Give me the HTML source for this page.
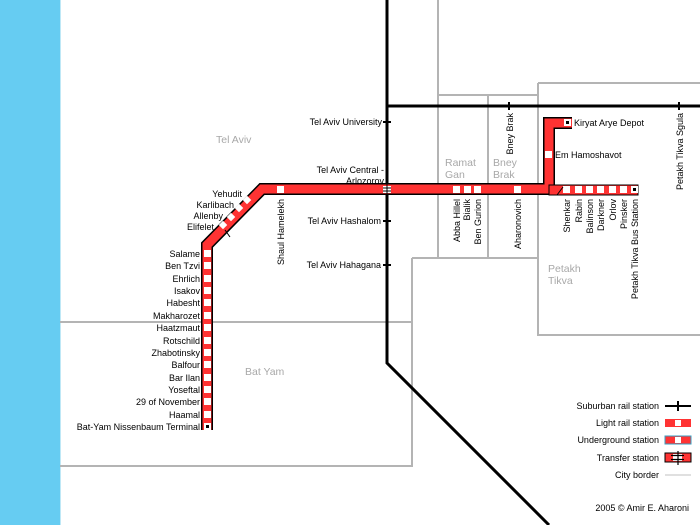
<!DOCTYPE html>
<html><head><meta charset="utf-8"><style>
html,body{margin:0;padding:0;background:#fff;}
svg{display:block;font-family:"Liberation Sans",sans-serif;font-size:9px;}
.g{stroke:#b4b4b4;stroke-width:2;fill:none}
.a{fill:#a8a8a8;font-size:10.5px}
</style></head><body>
<svg width="700" height="525" viewBox="0 0 700 525" xmlns="http://www.w3.org/2000/svg">
<rect x="0" y="0" width="60" height="525" fill="#66ccf2"/>
<line x1="60.5" y1="0" x2="60.5" y2="525" stroke="#bfe8f6" stroke-width="1"/>
<path class="g" d="M438 0V258M438 95H538M488 95V258M538 83H700M538 83V335H700M412 258H538M412 258V466H60M60 322H412"/>
<path d="M387 0V363L549 525M387 106H700" stroke="#000" stroke-width="3" fill="none"/>
<path d="M383 122H391M383 221H391M383 265H391M509 102V110M679 102V110" stroke="#000" stroke-width="2"/>
<path d="M207 430V245L262 189H549V123H572" stroke="#000" stroke-width="12" fill="none" stroke-linejoin="miter"/>
<path d="M207 430V245L262 189H549V123H572" stroke="#f33" stroke-width="9" fill="none" stroke-linejoin="miter"/>
<rect x="549" y="185" width="89" height="10" fill="#f33" stroke="#000" stroke-width="1"/>
<g fill="#fff">
<rect x="204" y="250" width="7" height="7"/><rect x="204" y="262" width="7" height="7"/><rect x="204" y="275" width="7" height="7"/><rect x="204" y="287" width="7" height="7"/><rect x="204" y="299" width="7" height="7"/><rect x="204" y="312" width="7" height="7"/><rect x="204" y="324" width="7" height="7"/><rect x="204" y="337" width="7" height="7"/><rect x="204" y="349" width="7" height="7"/><rect x="204" y="361" width="7" height="7"/><rect x="204" y="374" width="7" height="7"/><rect x="204" y="386" width="7" height="7"/><rect x="204" y="398" width="7" height="7"/><rect x="204" y="411" width="7" height="7"/>
<rect x="244" y="197" width="6" height="6" transform="rotate(45 247 200)"/><rect x="236" y="205" width="6" height="6" transform="rotate(45 239 208)"/><rect x="228" y="214" width="6" height="6" transform="rotate(45 231 217)"/><rect x="220" y="222" width="6" height="6" transform="rotate(45 223 225)"/>
<rect x="277" y="186" width="7" height="7"/><rect x="453" y="186" width="7" height="7"/><rect x="464" y="186" width="7" height="7"/><rect x="474" y="186" width="7" height="7"/><rect x="514" y="186" width="7" height="7"/>
<rect x="563" y="186" width="7" height="7"/><rect x="575" y="186" width="7" height="7"/><rect x="586" y="186" width="7" height="7"/><rect x="597" y="186" width="7" height="7"/><rect x="609" y="186" width="7" height="7"/><rect x="620" y="186" width="7" height="7"/><rect x="631" y="186" width="7" height="7"/>
<rect x="545" y="151" width="7" height="7"/><rect x="564" y="119" width="7" height="7"/><rect x="204" y="423" width="7" height="7"/>
<rect x="383" y="186" width="8" height="7"/>
</g>
<rect x="206" y="425" width="3" height="3" fill="#000"/><rect x="633" y="188" width="3" height="3" fill="#000"/><rect x="566" y="121" width="3" height="3" fill="#000"/>
<path d="M383 188H391M383 191H391" stroke="#000" stroke-width="1"/>
<path d="M387 184V198" stroke="#000" stroke-width="1"/>
<path d="M225 230L230 237M557 195L563 187" stroke="#000" stroke-width="1"/>
<text class="a" x="216" y="143">Tel Aviv</text>
<text class="a" x="445" y="166">Ramat</text><text class="a" x="445" y="178">Gan</text>
<text class="a" x="493" y="166">Bney</text><text class="a" x="493" y="178">Brak</text>
<text class="a" x="548" y="272">Petakh</text><text class="a" x="548" y="284">Tikva</text>
<text class="a" x="245" y="375">Bat Yam</text>
<g text-anchor="end">
<text x="200" y="257">Salame</text><text x="200" y="269">Ben Tzvi</text><text x="200" y="282">Ehrlich</text><text x="200" y="294">Isakov</text><text x="200" y="306">Habesht</text><text x="200" y="319">Makharozet</text><text x="200" y="331">Haatzmaut</text><text x="200" y="344">Rotschild</text><text x="200" y="356">Zhabotinsky</text><text x="200" y="368">Balfour</text><text x="200" y="381">Bar Ilan</text><text x="200" y="393">Yoseftal</text><text x="200" y="405">29 of November</text><text x="200" y="418">Haamal</text><text x="200" y="430">Bat-Yam Nissenbaum Terminal</text>
<text x="242" y="197">Yehudit</text><text x="234" y="208">Karlibach</text><text x="223" y="219">Allenby</text><text x="214" y="230">Elifelet</text>
<text x="382" y="125">Tel Aviv University</text>
<text x="384" y="173">Tel Aviv Central -</text><text x="384" y="184">Arlozorov</text>
<text x="381" y="224">Tel Aviv Hashalom</text><text x="381" y="268">Tel Aviv Hahagana</text>
<text x="659" y="409">Suburban rail station</text><text x="659" y="426">Light rail station</text><text x="659" y="443">Underground station</text><text x="659" y="461">Transfer station</text><text x="659" y="478">City border</text>
<text x="689" y="511">2005 © Amir E. Aharoni</text>
</g>
<text x="574" y="126">Kiryat Arye Depot</text>
<text x="555" y="158">Em Hamoshavot</text>
<g text-anchor="end">
<text transform="translate(284,199) rotate(-90)">Shaul Hamelekh</text>
<text transform="translate(460,199) rotate(-90)">Abba Hillel</text>
<text transform="translate(470,199) rotate(-90)">Bialik</text>
<text transform="translate(481,199) rotate(-90)">Ben Gurion</text>
<text transform="translate(521,199) rotate(-90)">Aharonovich</text>
<text transform="translate(570,199) rotate(-90)">Shenkar</text>
<text transform="translate(582,199) rotate(-90)">Rabin</text>
<text transform="translate(593,199) rotate(-90)">Balinson</text>
<text transform="translate(604,199) rotate(-90)">Darkner</text>
<text transform="translate(616,199) rotate(-90)">Orlov</text>
<text transform="translate(627,199) rotate(-90)">Pinsker</text>
<text transform="translate(638,199) rotate(-90)">Petakh Tikva Bus Station</text>
<text transform="translate(513,113) rotate(-90)">Bney Brak</text>
<text transform="translate(683,113) rotate(-90)">Petakh Tikva Sgula</text>
</g>
<path d="M665 406H691" stroke="#000" stroke-width="2"/><path d="M678 401V411" stroke="#000" stroke-width="2"/>
<rect x="665" y="419" width="26" height="8" fill="#f33"/><rect x="675" y="420" width="6" height="6" fill="#fff"/>
<rect x="665" y="436" width="26" height="8" fill="#f33" stroke="#3a9fc0" stroke-width="1"/><rect x="675" y="437" width="6" height="6" fill="#fff"/>
<rect x="665" y="453" width="26" height="9" fill="#f33" stroke="#000" stroke-width="1"/><rect x="673" y="454" width="9" height="7" fill="#fff"/>
<path d="M671 455.5H684M671 459.5H684M678 451V465" stroke="#000" stroke-width="1.2"/>
<path d="M665 475H691" stroke="#c0c0c0" stroke-width="1"/>
</svg>
</body></html>
